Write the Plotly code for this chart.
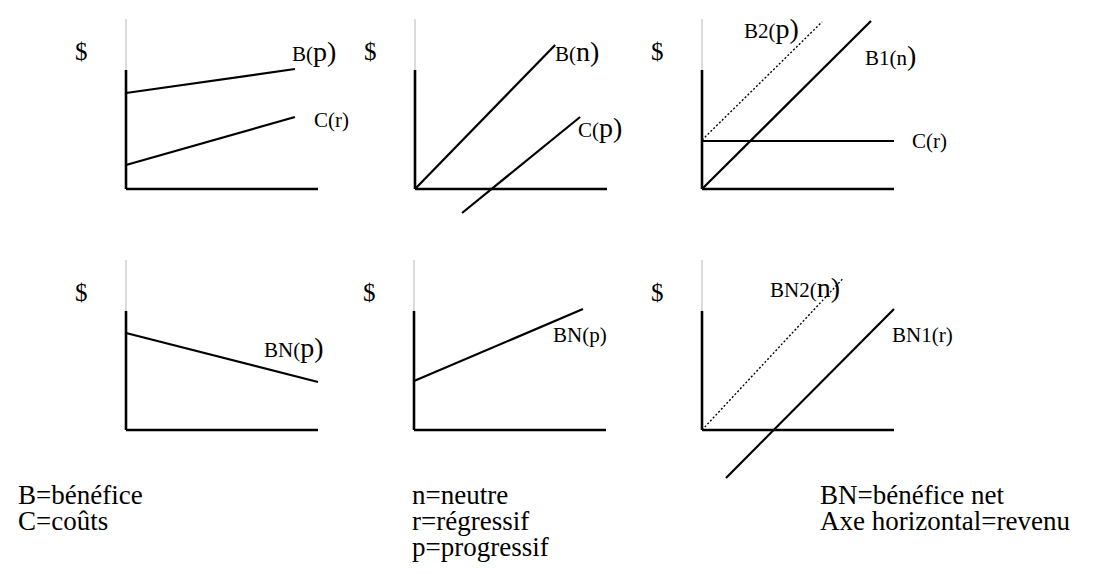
import plotly.graph_objects as go

W, H = 1104, 574
S = 19.2  # pixels per data unit in every panel

# ---- data (panel coordinates, origin at axis corner, x axis spans 0..10) ----
AXIS_X = [0, 10]
AXIS_THICK_Y = [0, 6.2]
AXIS_THIN_Y = [6.2, 8.85]

# panel 1 (top-left)
P1_B_X, P1_B_Y = [0, 8.8], [5.0, 6.25]
P1_C_X, P1_C_Y = [0, 8.8], [1.25, 3.75]
# panel 2 (top-middle)
P2_B_X, P2_B_Y = [0, 7.3], [0, 7.5]
P2_C_X, P2_C_Y = [2.45, 8.6], [-1.25, 3.75]
# panel 3 (top-right)
P3_B1_X, P3_B1_Y = [0, 8.8], [0, 8.75]
P3_B2_X, P3_B2_Y = [0, 6.25], [2.55, 8.7]
P3_C_X, P3_C_Y = [0, 10], [2.5, 2.5]
# panel 4 (bottom-left)
P4_BN_X, P4_BN_Y = [0, 10], [5.05, 2.5]
# panel 5 (bottom-middle)
P5_BN_X, P5_BN_Y = [0, 8.8], [2.55, 6.3]
# panel 6 (bottom-right)
P6_BN1_X, P6_BN1_Y = [1.25, 10], [-2.5, 6.3]
P6_BN2_X, P6_BN2_Y = [0, 7.35], [0, 7.9]

LEGEND_LEFT = ["B=bénéfice", "C=coûts"]
LEGEND_MID = ["n=neutre", "r=régressif", "p=progressif"]
LEGEND_RIGHT = ["BN=bénéfice net", "Axe horizontal=revenu"]

# panel origins in pixels (x0, y0 from top)
ORIGINS = [(126, 189), (415, 189), (702, 189), (126, 430), (414, 430), (702, 430)]

FONT = "Liberation Serif"
SMALL = 21
BIG = 28


def big(t):
    return f'<span style="font-size:{BIG}px">{t}</span>'


fig = go.Figure()

layout_axes = {}
for i, (x0, y0) in enumerate(ORIGINS, start=1):
    left, right = x0 - 62, x0 + 272
    top, bottom = y0 - 184, y0 + 56
    xr = [(left - x0) / S, (right - x0) / S]
    yr = [(y0 - bottom) / S, (y0 - top) / S]
    sx = "" if i == 1 else str(i)
    layout_axes[f"xaxis{sx}"] = dict(domain=[max(left, 0) / W, min(right, W) / W], range=xr,
                                      visible=False, anchor=f"y{sx}", fixedrange=True)
    layout_axes[f"yaxis{sx}"] = dict(domain=[1 - bottom / H, 1 - top / H], range=yr, visible=False,
                                      anchor=f"x{sx}", fixedrange=True)


def line(panel, xs, ys, width=2.2, color="black", dash="solid"):
    sx = "" if panel == 1 else str(panel)
    fig.add_trace(go.Scatter(x=xs, y=ys, mode="lines", xaxis=f"x{sx}", yaxis=f"y{sx}",
                             line=dict(color=color, width=width, dash=dash),
                             hoverinfo="skip", showlegend=False, cliponaxis=False))


for p in range(1, 7):
    line(p, [0, 0], AXIS_THIN_Y, width=1, color="#b8b8b8")
    line(p, [0, 0], AXIS_THICK_Y, width=2.6)
    line(p, AXIS_X, [0, 0], width=2.6)

line(1, P1_B_X, P1_B_Y)
line(1, P1_C_X, P1_C_Y)
line(2, P2_B_X, P2_B_Y)
line(2, P2_C_X, P2_C_Y)
line(3, P3_B1_X, P3_B1_Y)
line(3, P3_B2_X, P3_B2_Y, width=1.4, dash="2px,2px")
line(3, P3_C_X, P3_C_Y)
line(4, P4_BN_X, P4_BN_Y)
line(5, P5_BN_X, P5_BN_Y)
line(6, P6_BN1_X, P6_BN1_Y)
line(6, P6_BN2_X, P6_BN2_Y, width=1.4, dash="2px,2px")

annotations = []


def label(panel, x, y, text, anchor="left", size=SMALL):
    sx = "" if panel == 1 else str(panel)
    annotations.append(dict(xref=f"x{sx}", yref=f"y{sx}", x=x, y=y, text=text, showarrow=False,
                            xanchor=anchor, yanchor="middle",
                            font=dict(family=FONT, size=size, color="black")))


# dollar signs
for p in range(1, 7):
    label(p, -2.3, 7.15, "$", anchor="center", size=25)

label(1, 8.55, 7.15, "B(" + big("p)"))
label(1, 9.7, 3.6, "C(r)")
label(2, 7.2, 7.15, "B(" + big("n)"))
label(2, 8.4, 3.2, "C(" + big("p)"))
label(3, 2.1, 8.35, "B2(" + big("p)"))
label(3, 8.4, 6.95, "B1(n" + big(")"))
label(3, 10.85, 2.5, "C(r)")
label(4, 7.1, 4.3, "BN(" + big("p)"))
label(5, 7.15, 4.95, "BN(p)")
label(6, 3.45, 7.4, "BN2(" + big("n)"))
label(6, 9.8, 4.95, "BN1(r)")


def ptext(x, y, text, size=27):
    annotations.append(dict(xref="paper", yref="paper", x=x / W, y=1 - y / H, text=text,
                            showarrow=False, xanchor="left", yanchor="middle",
                            font=dict(family=FONT, size=size, color="black")))


ROWS = [495, 521, 547]
for j, t in enumerate(LEGEND_LEFT):
    ptext(16, ROWS[j], t)
for j, t in enumerate(LEGEND_MID):
    ptext(410, ROWS[j], t)
for j, t in enumerate(LEGEND_RIGHT):
    ptext(818, ROWS[j], t)

fig.update_layout(width=W, height=H, margin=dict(l=0, r=0, t=0, b=0),
                  paper_bgcolor="white", plot_bgcolor="white",
                  annotations=annotations, showlegend=False, **layout_axes)

fig.write_html("out.html", config={"displayModeBar": False},
               post_script="document.body.style.margin='0';document.body.style.overflow='hidden';")
